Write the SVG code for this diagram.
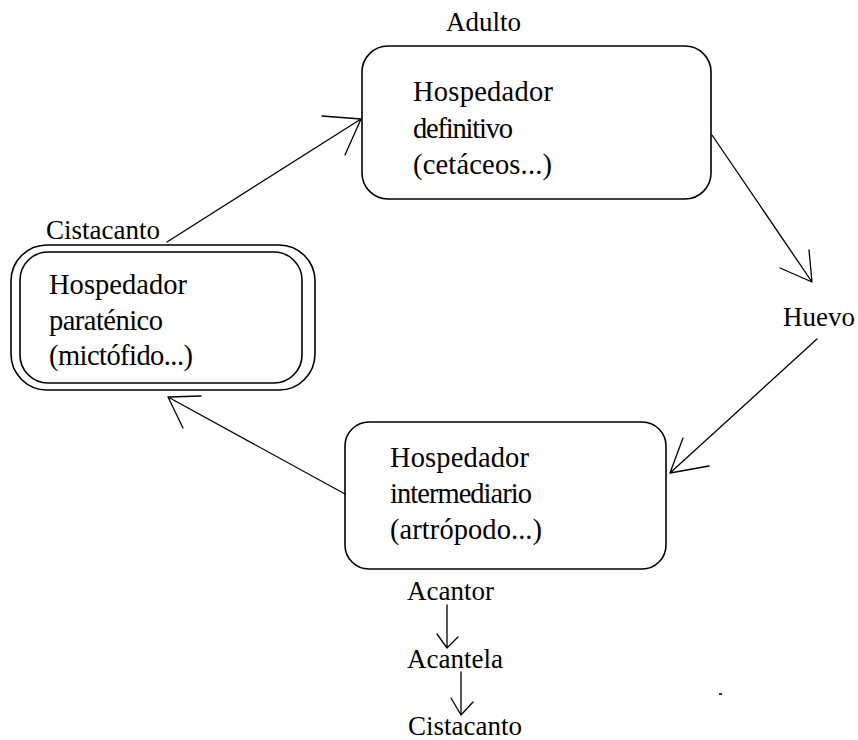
<svg xmlns="http://www.w3.org/2000/svg" width="858" height="740" viewBox="0 0 858 740">
<style>
text{font-family:"Liberation Serif","Times New Roman",serif;font-size:27px;fill:#000}
.bt{font-size:28.5px}
.box{fill:none;stroke:#000;stroke-width:1.6}
.ln{fill:none;stroke:#000;stroke-width:1.3;stroke-linecap:round;stroke-linejoin:round}
</style>
<rect width="858" height="740" fill="#fff"/>
<g id="definitivo">
<rect class="box" x="362" y="46" width="349" height="153" rx="26"/>
<text class="bt" x="413" y="101" textLength="140" lengthAdjust="spacing">Hospedador</text>
<text class="bt" x="413" y="138" textLength="100" lengthAdjust="spacing">definitivo</text>
<text class="bt" x="413" y="174" textLength="139" lengthAdjust="spacing">(cetáceos...)</text>
</g>
<text id="lbl-adulto" x="446" y="31">Adulto</text>
<g id="paratenico">
<rect class="box" x="11" y="245" width="304" height="145" rx="36"/>
<rect class="box" x="20" y="252" width="282" height="131" rx="28"/>
<text class="bt" x="49" y="294" textLength="138" lengthAdjust="spacing">Hospedador</text>
<text class="bt" x="49" y="330" textLength="114" lengthAdjust="spacing">paraténico</text>
<text class="bt" x="49" y="365" textLength="144" lengthAdjust="spacing">(mictófido...)</text>
</g>
<text id="lbl-cistacanto1" x="46" y="239">Cistacanto</text>
<g id="intermediario">
<rect class="box" x="345" y="422" width="321" height="147" rx="24"/>
<text class="bt" x="390" y="467" textLength="139" lengthAdjust="spacing">Hospedador</text>
<text class="bt" x="390" y="503" textLength="142" lengthAdjust="spacing">intermediario</text>
<text class="bt" x="390" y="539" textLength="152" lengthAdjust="spacing">(artrópodo...)</text>
</g>
<text id="huevo" x="783" y="326">Huevo</text>
<text id="acantor" x="407" y="600">Acantor</text>
<text id="acantela" x="407" y="668">Acantela</text>
<text id="cistacanto2" x="408" y="735">Cistacanto</text>
<g id="connectors">
<path class="ln" d="M167 242 L361 119 M322 116 L361 119 L345 155"/>
<path class="ln" d="M712 135 L812 282 M809 250 L812 282 L780 268"/>
<path class="ln" d="M817 339 L670 473 M683 438 L670 473 L709 466"/>
<path class="ln" d="M345 494 L168 397 M201 396 L168 397 L183 428"/>
<path class="ln" d="M447 605 L447 648 M437 634 L447 648 L458 637"/>
<path class="ln" d="M461 672 L461 715 M451 698 L461 715 L473 702"/>
</g>
<rect x="719" y="693" width="3" height="2" fill="#333"/>
</svg>
